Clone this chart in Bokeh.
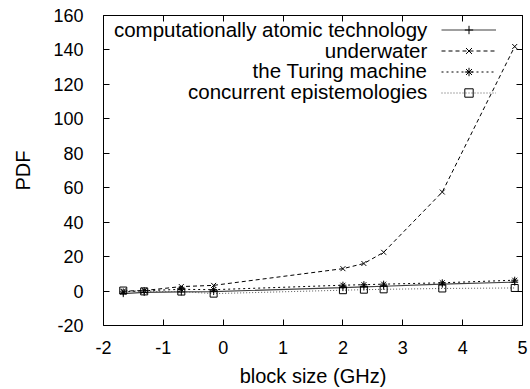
from bokeh.plotting import figure
from bokeh.models import (Legend, LegendItem, Label, LinearAxis, Range1d,
                          FixedTicker, ColumnDataSource, PrintfTickFormatter)
from bokeh.embed import file_html
from bokeh.resources import INLINE

block_size = [-1.67, -1.32, -0.70, -0.16, 2.0, 2.35, 2.68, 3.66, 4.87]
comp_atomic = [-1.5, -0.8, -0.5, -0.3, 2.0, 2.4, 2.8, 4.0, 5.2]
underwater = [0.0, 0.3, 2.6, 3.3, 13.0, 16.0, 22.5, 57.5, 142.0]
turing = [-0.5, 0.2, 1.0, 0.8, 3.4, 3.7, 4.0, 4.8, 6.3]
concurrent = [0.3, -0.2, -0.3, -1.5, 0.5, 0.8, 1.0, 1.5, 1.8]

series_names = ["computationally atomic technology", "underwater",
                "the Turing machine", "concurrent epistemologies"]
x_ticks = [-2, -1, 0, 1, 2, 3, 4, 5]
y_ticks = [-20, 0, 20, 40, 60, 80, 100, 120, 140, 160]

FONT = "Liberation Sans"

p = figure(width=530, height=389, output_backend="svg", toolbar_location=None,
           x_range=Range1d(-2, 5), y_range=Range1d(-20, 160),
           min_border_left=103, min_border_right=8, min_border_top=15,
           min_border_bottom=63)
p.outline_line_color = "black"
p.outline_line_width = 1
p.xgrid.visible = False
p.ygrid.visible = False
p.background_fill_color = "white"
p.border_fill_color = "white"

def style_axis(ax, ticks, show_labels=True):
    ax.ticker = FixedTicker(ticks=ticks)
    ax.formatter = PrintfTickFormatter(format="%d")
    ax.major_tick_in = 6
    ax.major_tick_out = 0
    ax.minor_tick_line_color = None
    ax.axis_line_color = None
    ax.major_tick_line_color = "black"
    ax.major_label_text_font = FONT
    ax.major_label_text_font_size = "18px"
    ax.major_label_text_color = "black"
    if not show_labels:
        ax.major_label_text_font_size = "0px"
        ax.major_label_text_color = None

style_axis(p.xaxis[0], x_ticks)
style_axis(p.yaxis[0], y_ticks)
p.xaxis[0].major_label_standoff = 15
p.yaxis[0].major_label_standoff = 20
p.xaxis[0].axis_label = "block size (GHz)"
p.yaxis[0].axis_label = "PDF"
for ax in (p.xaxis[0], p.yaxis[0]):
    ax.axis_label_text_font = FONT
    ax.axis_label_text_font_size = "20px"
    ax.axis_label_text_font_style = "normal"
    ax.axis_label_text_color = "black"
p.xaxis[0].axis_label_standoff = 8
p.yaxis[0].axis_label_standoff = 16

top_ax = LinearAxis()
style_axis(top_ax, x_ticks, show_labels=False)
p.add_layout(top_ax, "above")
right_ax = LinearAxis()
style_axis(right_ax, y_ticks, show_labels=False)
p.add_layout(right_ax, "right")

src = ColumnDataSource(dict(x=block_size, a=comp_atomic, u=underwater,
                            t=turing, c=concurrent))

specs = [
    ("a", "solid", "cross", "#404040", 1.2),
    ("u", "4 3", "x", "black", 1.0),
    ("t", "2 3", "asterisk", "black", 1.0),
    ("c", "1 2", "square", "#555555", 1.0),
]
items = []
for (col, dash, marker, color, lw), name in zip(specs, series_names):
    l = p.line("x", col, source=src, line_color=color, line_dash=dash, line_width=lw)
    s = p.scatter("x", col, source=src, marker=marker, size=7,
                  line_color="black", fill_color=None, line_width=1)
    items.append(LegendItem(label=" ", renderers=[l, s]))

legend = Legend(items=items, location=(338, 222), glyph_width=55,
                glyph_height=21, label_width=0, label_standoff=0, spacing=0,
                padding=0, margin=0, border_line_color=None,
                background_fill_alpha=0, label_text_font_size="1px")
p.add_layout(legend)

label_y = [151.9, 139.9, 127.9, 115.7]
for name, yy in zip(series_names, label_y):
    p.add_layout(Label(x=3.41, y=yy, text=name, text_align="right",
                       text_baseline="middle", text_font=FONT,
                       text_font_size="20.5px", text_color="black"))

open("out.html", "w").write(file_html(p, INLINE))
